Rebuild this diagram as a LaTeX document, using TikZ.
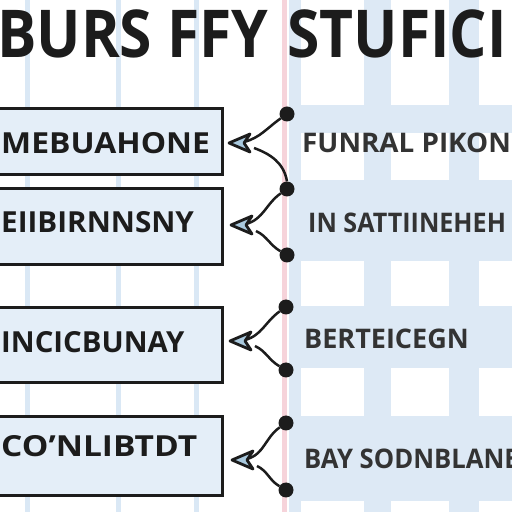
\documentclass[tikz,border=0pt]{standalone}
\usepackage{fontspec}
\setmainfont{Open Sans}
\usetikzlibrary{arrows.meta,calc}
\definecolor{gridblue}{HTML}{DDE9F5}
\definecolor{stripblue}{HTML}{DAE8F5}
\definecolor{pinkline}{HTML}{F6D3DA}
\definecolor{boxfill}{HTML}{E4EEF8}
\definecolor{ink}{HTML}{1C1C1C}
\definecolor{tipfill}{HTML}{A9C9DE}
\tikzset{
  box/.style={draw=ink, line width=3.5pt, fill=boxfill, inner sep=0pt},
  lbl/.style={font=\bfseries\fontsize{29}{30}\selectfont, text=ink, inner sep=0pt, anchor=base west, xscale=1.1},
  rlbl/.style={font=\bfseries\fontsize{27}{30}\selectfont, text=ink!90, inner sep=0pt, anchor=base west},
  dotnode/.style={circle, fill=ink, minimum size=15pt, inner sep=0pt},
  conn/.style={draw=ink, line width=2.5pt},
  tipshape/.style={draw=ink, fill=tipfill, line width=2.8pt, line join=round},
}
\begin{document}
\begin{tikzpicture}[x=1pt,y=1pt]
\useasboundingbox (0,0) rectangle (512,512);
\fill[white] (0,0) rectangle (512,512);
% left stripes
\foreach \xa in {25,116,194} \fill[stripblue] (\xa,0) rectangle ++(5,512);
% right blue region with white squares
\fill[gridblue] (289,0) rectangle (512,512);
\foreach \ya/\yb in {0/105,133/180,261/306,368/416,501/512}
  \foreach \xa/\xb in {301/364,391/449,479/512}
    \fill[white] (\xa,512-\yb) rectangle (\xb,512-\ya);
% pink line
\fill[pinkline] (282,0) rectangle (287,512);
% title
\begin{scope}
\clip (0,0) rectangle (512,512);
\node[font=\bfseries\fontsize{66}{68}\selectfont, text=ink, inner sep=0pt, anchor=base west, xscale=0.89] (title) at (-3,454) {BURS FFY\hspace{4pt} STUFICI};
\end{scope}
% boxes
\node[box, minimum width=240pt, minimum height=66pt, anchor=north east] (b1) at (224,405) {};
\node[box, minimum width=240pt, minimum height=76pt, anchor=north east] (b2) at (224,325) {};
\node[box, minimum width=240pt, minimum height=75pt, anchor=north east] (b3) at (224,206) {};
\node[box, minimum width=240pt, minimum height=79pt, anchor=north east] (b4) at (224,97) {};
\node[lbl] (t1) at (1,358) {MEBUAHONE};
\node[lbl, xscale=0.93] (t2) at (1,279) {EIIBIRNNSNY};
\node[lbl, xscale=0.92] (t3) at (1,159) {INCICBUNAY};
\node[lbl, xscale=1.05] (t4) at (1,56) {CO’NLIBTDT};
% right labels
\node[rlbl, xscale=1.03] (r1) at (302,359) {FUNRAL PIKON};
\node[rlbl, xscale=0.93] (r2) at (308,279) {IN SATTIINEHEH};
\node[rlbl] (r3) at (304,163) {BERTEICEGN};
\node[rlbl, xscale=0.95] (r4) at (304,43) {BAY SODNBLANE};
% dots
\node[dotnode] (d1) at (287,398) {};
\node[dotnode] (d2) at (287,323) {};
\node[dotnode] (d3) at (287,257) {};
\node[dotnode] (d4) at (286,205) {};
\node[dotnode] (d5) at (286,142) {};
\node[dotnode] (d6) at (286,89) {};
\node[dotnode] (d7) at (286,22) {};
% arrow tips and branch ends
\coordinate (p1) at (229,369); \coordinate (e1) at (254,364);
\coordinate (p2) at (231,287); \coordinate (e2) at (256,281);
\coordinate (p3) at (230,171); \coordinate (e3) at (255,166);
\coordinate (p4) at (232,52);  \coordinate (e4) at (257,46);
% connectors
\draw[conn] (d1) to[out=215, in=15] ($(p1)+(15,1)$);
\draw[conn] (d2.north) to[out=100, in=-20] (e1);
\draw[conn] (d2) to[out=215, in=15] ($(p2)+(15,1)$);
\draw[conn] (d3) to[out=150, in=-25] (e2);
\draw[conn] (d4) to[out=215, in=15] ($(p3)+(15,1)$);
\draw[conn] (d5) to[out=150, in=-25] (e3);
\draw[conn] (d6) to[out=215, in=15] ($(p4)+(15,1)$);
\draw[conn] (d7) to[out=150, in=-25] (e4);
% arrowheads
\foreach \p in {p1,p2,p3,p4}
  \draw[tipshape] (\p) -- ++(21,9) -- ++(-6,-9) -- ++(6,-9) -- cycle;
\end{tikzpicture}
\end{document}
